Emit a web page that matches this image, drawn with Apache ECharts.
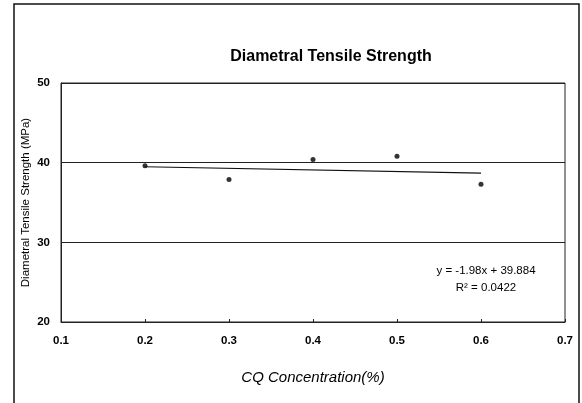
<!DOCTYPE html>
<html><head><meta charset="utf-8">
<script src="https://cdn.jsdelivr.net/npm/echarts@6/dist/echarts.min.js"></script>
<style>html,body{margin:0;padding:0;background:#fff}#c{width:582px;height:403px}</style>
</head><body><div id="c"></div>
<script>
const xValues = [0.2, 0.3, 0.4, 0.5, 0.6];
const yValues = [39.6, 37.9, 40.4, 40.8, 37.3];
const trendSlope = -1.98;
const trendIntercept = 39.884;
const trendRange = [0.2, 0.6];
const xTicks = [0.1, 0.2, 0.3, 0.4, 0.5, 0.6, 0.7];
const yTicks = [20, 30, 40, 50];
const eqText = 'y = -1.98x + 39.884';
const r2Text = 'R² = 0.0422';

const chart = echarts.init(document.getElementById('c'), null, {renderer: 'canvas'});
const font = '"Liberation Sans", Arial, sans-serif';
chart.setOption({
  animation: false,
  backgroundColor: '#fff',
  title: {
    text: 'Diametral Tensile Strength',
    left: 326, top: 44, textAlign: 'center',
    textStyle: {fontFamily: font, fontSize: 16, fontWeight: 'bold', color: '#000'}
  },
  graphic: [
    {type: 'rect', shape: {x: 14, y: 4, width: 565, height: 400},
     style: {fill: 'none', stroke: '#111', lineWidth: 1.5}, z: 10},
    {type: 'text', x: 486, y: 271, z: 10,
     style: {text: eqText, fontFamily: font, fontSize: 11.5, fill: '#000', align: 'center', verticalAlign: 'middle'}},
    {type: 'text', x: 486, y: 288, z: 10,
     style: {text: r2Text, fontFamily: font, fontSize: 11.5, fill: '#000', align: 'center', verticalAlign: 'middle'}}
  ],
  grid: {left: 61, right: 17, top: 83, bottom: 81, show: true, borderColor: '#222', borderWidth: 1},
  xAxis: {
    type: 'value', min: xTicks[0], max: xTicks[xTicks.length - 1], interval: 0.1,
    name: 'CQ Concentration(%)', nameLocation: 'middle', nameGap: 48,
    nameTextStyle: {fontFamily: font, fontSize: 15, fontStyle: 'italic', color: '#000'},
    axisLine: {show: true, lineStyle: {color: '#222'}},
    axisTick: {show: true, inside: true, length: 3, lineStyle: {color: '#222'}},
    splitLine: {show: false},
    axisLabel: {fontFamily: font, fontSize: 11.5, fontWeight: 'bold', color: '#000', margin: 13,
      formatter: v => v.toFixed(1)}
  },
  yAxis: {
    type: 'value', min: yTicks[0], max: yTicks[yTicks.length - 1], interval: 10,
    name: 'Diametral Tensile Strength (MPa)', nameLocation: 'middle', nameGap: 29,
    nameMoveOverlap: false,
    nameTextStyle: {fontFamily: font, fontSize: 11.5, color: '#000'},
    axisLine: {show: true, lineStyle: {color: '#222'}},
    axisTick: {show: false},
    splitLine: {show: true, lineStyle: {color: '#222', width: 1}},
    axisLabel: {fontFamily: font, fontSize: 11.5, fontWeight: 'bold', color: '#000', margin: 11}
  },
  series: [
    {type: 'line', data: trendRange.map(x => [x, trendSlope * x + trendIntercept]),
     symbol: 'none', lineStyle: {color: '#111', width: 1.2}, silent: true},
    {type: 'scatter', data: xValues.map((x, i) => [x, yValues[i]]),
     symbol: 'circle', symbolSize: 5, itemStyle: {color: '#000'}}
  ]
});
</script></body></html>
